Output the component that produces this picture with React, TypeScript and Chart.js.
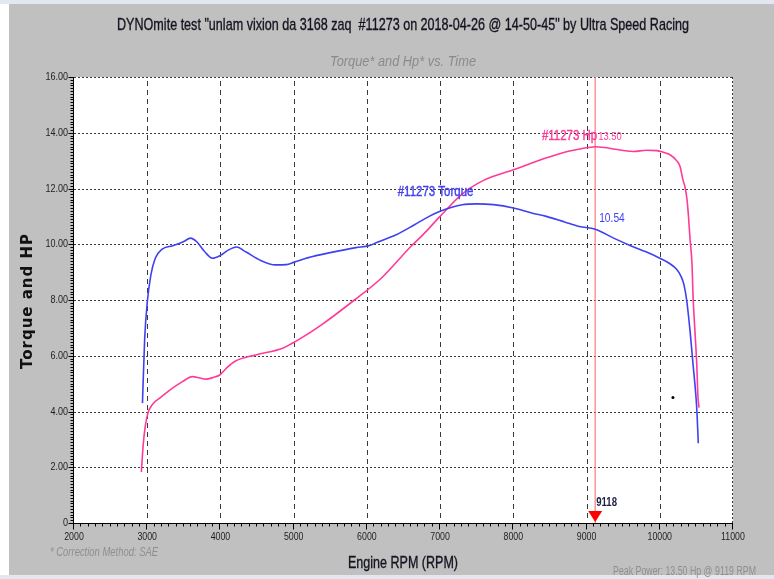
import { useEffect, useRef } from "react";
import { Chart, registerables } from "chart.js";

Chart.register(...registerables);

// ---- Run data -------------------------------------------------------------
const runId = "#11273";

const torqueRpm = [
  2935, 2965, 3000, 3050, 3110, 3200, 3350, 3500, 3590, 3680, 3780, 3890, 4000,
  4100, 4220, 4350, 4550, 4750, 4900, 5000, 5200, 5500, 5850, 6030, 6150, 6400,
  6650, 6850, 7000, 7150, 7300, 7500, 7730, 8000, 8250, 8450, 8700, 8900, 9118,
  9370, 9600, 9820, 10000, 10140, 10230, 10290, 10330, 10367, 10413, 10454,
  10495, 10509, 10526,
];
const torqueVals = [
  4.3, 6.6, 7.9, 8.9, 9.5, 9.82, 9.95, 10.1, 10.22, 10.08, 9.75, 9.5, 9.6,
  9.78, 9.9, 9.72, 9.42, 9.26, 9.27, 9.35, 9.52, 9.7, 9.88, 9.95, 10.08, 10.34,
  10.7, 11.0, 11.18, 11.32, 11.42, 11.45, 11.42, 11.3, 11.12, 11.0, 10.8, 10.64,
  10.54, 10.22, 9.95, 9.72, 9.5, 9.3, 9.1, 8.85, 8.55, 8.0, 6.9, 5.7, 4.5, 3.9,
  2.86,
];

const hpRpm = [
  2920, 2945, 2975, 3010, 3070, 3180, 3300, 3480, 3620, 3720, 3800, 3900, 3990,
  4080, 4200, 4480, 4850, 4980, 5050, 5380, 5830, 6200, 6600, 6750, 7000, 7300,
  7600, 8000, 8456, 8700, 8911, 9000, 9118, 9250, 9365, 9638, 9821, 9958, 10050,
  10140, 10230, 10276, 10317, 10345, 10372, 10392, 10413, 10440, 10455, 10480,
  10505, 10522, 10536,
];
const hpVals = [
  1.83, 2.8, 3.5, 3.95, 4.25, 4.5, 4.75, 5.07, 5.25, 5.2, 5.16, 5.22, 5.31,
  5.55, 5.8, 6.03, 6.27, 6.45, 6.55, 7.11, 8.0, 8.79, 9.92, 10.3, 11.0, 11.8,
  12.3, 12.67, 13.1, 13.3, 13.42, 13.46, 13.5, 13.47, 13.42, 13.33, 13.37,
  13.36, 13.3, 13.21, 13.0, 12.8, 12.3, 12.05, 11.6, 11.0, 10.2, 9.3, 8.1, 6.9,
  5.7, 4.5, 4.14,
];

// stray point left on the graph by the dyno software
const strayRpm = [10180];
const strayVals = [4.5];

const xTickValues = [2000, 3000, 4000, 5000, 6000, 7000, 8000, 9000, 10000, 11000];
const xTickLabels = ["2000", "3000", "4000", "5000", "6000", "7000", "8000", "9000", "10000", "11000"];
const yTickValues = [0, 2, 4, 6, 8, 10, 12, 14, 16];
const yTickLabels = ["0", "2.00", "4.00", "6.00", "8.00", "10.00", "12.00", "14.00", "16.00"];

const markerRpm = 9118;
const peakPowerRpm = 9119;

const titleText =
  'DYNOmite test "unlam vixion da 3168 zaq  #11273 on 2018-04-26 @ 14-50-45" by Ultra Speed Racing';
const subtitleText = "Torque* and Hp* vs. Time";
const xTitle = "Engine RPM (RPM)";
const yTitle = "Torque and HP";
const correctionNote = "* Correction Method: SAE";

// ---- Styling ----------------------------------------------------------------
const W = 774;
const H = 579;
const TORQUE_COLOR = "#4040f2";
const HP_COLOR = "#ff3a98";
const PANEL = "#c0c0c0";
const SANS = "'Liberation Sans', Arial, sans-serif";

type Align = "left" | "center" | "right";

// Draws text horizontally squeezed (narrow face), either by a ratio or to a width.
function narrowText(
  ctx: CanvasRenderingContext2D,
  text: string,
  x: number,
  y: number,
  font: string,
  color: string,
  align: Align,
  opts: { sx?: number; width?: number; stroke?: number } = {}
) {
  ctx.save();
  ctx.font = font;
  ctx.fillStyle = color;
  ctx.textBaseline = "middle";
  ctx.textAlign = "left";
  const raw = ctx.measureText(text).width;
  const sx = opts.width ? opts.width / raw : opts.sx ?? 0.82;
  const w = raw * sx;
  const left = align === "center" ? x - w / 2 : align === "right" ? x - w : x;
  ctx.translate(left, y);
  ctx.scale(sx, 1);
  ctx.fillText(text, 0, 0);
  if (opts.stroke) {
    ctx.strokeStyle = color;
    ctx.lineWidth = opts.stroke;
    ctx.strokeText(text, 0, 0);
  }
  ctx.restore();
}

const dynoDecor = {
  id: "dynoDecor",
  beforeDraw(chart: any) {
    const { ctx, chartArea: a } = chart;
    ctx.save();
    ctx.fillStyle = "#ffffff";
    ctx.fillRect(0, 0, W, H);
    ctx.fillStyle = "#e3e8f0";
    ctx.fillRect(0, 0, W, 4);
    ctx.fillRect(0, 575, W, 4);
    ctx.fillStyle = PANEL;
    ctx.fillRect(9, 4, W - 9, 571);
    ctx.fillStyle = "#ffffff";
    ctx.fillRect(a.left, a.top, a.right - a.left, a.bottom - a.top);
    ctx.restore();
  },
  beforeDatasetsDraw(chart: any) {
    const { ctx, chartArea: a, scales } = chart;
    const xs = scales.x;
    const ys = scales.y;
    ctx.save();
    ctx.lineWidth = 1;
    // horizontal grid: dotted
    ctx.strokeStyle = "#3a3a3a";
    ctx.setLineDash([2, 2]);
    yTickValues.forEach((v) => {
      if (v === 0) return;
      const py = Math.round(ys.getPixelForValue(v)) + 0.5;
      ctx.beginPath();
      ctx.moveTo(a.left, py);
      ctx.lineTo(a.right, py);
      ctx.stroke();
    });
    // right border, dotted
    const rx = Math.round(xs.getPixelForValue(xTickValues[xTickValues.length - 1])) - 0.5;
    ctx.beginPath();
    ctx.moveTo(rx, a.top);
    ctx.lineTo(rx, a.bottom);
    ctx.stroke();
    // vertical grid: dashed
    ctx.setLineDash([5, 4]);
    xTickValues.slice(1, -1).forEach((v) => {
      const px = Math.round(xs.getPixelForValue(v)) + 0.5;
      ctx.beginPath();
      ctx.moveTo(px, a.top + 4);
      ctx.lineTo(px, a.bottom - 2);
      ctx.stroke();
    });
    // peak power marker line
    ctx.setLineDash([]);
    ctx.strokeStyle = "rgba(255,110,110,0.75)";
    ctx.lineWidth = 1.5;
    const mx = xs.getPixelForValue(markerRpm);
    ctx.beginPath();
    ctx.moveTo(mx, a.top);
    ctx.lineTo(mx, a.bottom);
    ctx.stroke();
    ctx.restore();
  },
  afterDatasetsDraw(chart: any) {
    const { ctx, chartArea: a, scales } = chart;
    const xs = scales.x;
    const ys = scales.y;
    ctx.save();
    ctx.strokeStyle = "#000";
    ctx.lineWidth = 1;
    ctx.setLineDash([]);

    // left axis with minor ticks
    const lx = a.left - 0.5;
    ctx.beginPath();
    ctx.moveTo(lx, a.top);
    ctx.lineTo(lx, a.bottom + 1);
    for (let i = 0; i <= 160; i++) {
      const py = Math.round(ys.getPixelForValue(i / 10)) + 0.5;
      const len = i % 20 === 0 ? 5 : 3;
      ctx.moveTo(lx - len, py);
      ctx.lineTo(lx, py);
    }
    ctx.stroke();

    // bottom axis with minor ticks
    const by = a.bottom + 0.5;
    ctx.beginPath();
    ctx.moveTo(a.left - 1, by);
    ctx.lineTo(a.right, by);
    for (let r = 2000; r <= 11000; r += 100) {
      const px = Math.round(xs.getPixelForValue(r)) - 0.5;
      const len = r % 1000 === 0 ? 6 : 3;
      ctx.moveTo(px, by);
      ctx.lineTo(px, by + len);
    }
    ctx.stroke();
    ctx.restore();

    // tick labels
    yTickValues.forEach((v, i) => {
      narrowText(ctx, yTickLabels[i], a.left - 6, ys.getPixelForValue(v), `11px ${SANS}`, "#1e1e1e", "right", { sx: 0.82 });
    });
    xTickValues.forEach((v, i) => {
      narrowText(ctx, xTickLabels[i], xs.getPixelForValue(v), a.bottom + 14, `11px ${SANS}`, "#1e1e1e", "center", { sx: 0.8 });
    });

    // marker triangle and rpm label
    const mx = xs.getPixelForValue(markerRpm);
    ctx.save();
    ctx.fillStyle = "#ff0000";
    ctx.beginPath();
    ctx.moveTo(mx - 7, a.bottom - 12);
    ctx.lineTo(mx + 7, a.bottom - 12);
    ctx.lineTo(mx, a.bottom - 1);
    ctx.closePath();
    ctx.fill();
    ctx.restore();
    narrowText(ctx, String(markerRpm), mx + 1, a.bottom - 20, `bold 12px ${SANS}`, "#23234a", "left", { sx: 0.8 });

    // series labels tied to the data
    let hpPeak = 0;
    hpVals.forEach((v, i) => { if (v > hpVals[hpPeak]) hpPeak = i; });
    const hx = xs.getPixelForValue(hpRpm[hpPeak]);
    const hy = ys.getPixelForValue(hpVals[hpPeak]);
    narrowText(ctx, `${runId} Hp`, hx + 2, hy - 11, `14px ${SANS}`, HP_COLOR, "right", { sx: 0.82, stroke: 0.4 });
    narrowText(ctx, hpVals[hpPeak].toFixed(2), hx + 3, hy - 9.5, `11px ${SANS}`, HP_COLOR, "left", { sx: 0.85 });

    let tqPeak = 0;
    torqueVals.forEach((v, i) => { if (v > torqueVals[tqPeak]) tqPeak = i; });
    const tx = xs.getPixelForValue(torqueRpm[tqPeak]);
    const ty = ys.getPixelForValue(torqueVals[tqPeak]);
    narrowText(ctx, `${runId} Torque`, tx - 79, ty - 12, `14px ${SANS}`, TORQUE_COLOR, "left", { sx: 0.82, stroke: 0.4 });

    const mi = torqueRpm.indexOf(markerRpm);
    const my = ys.getPixelForValue(torqueVals[mi]);
    narrowText(ctx, torqueVals[mi].toFixed(2), mx + 4, my - 11, `12px ${SANS}`, TORQUE_COLOR, "left", { sx: 0.85 });

    // titles and notes
    narrowText(ctx, titleText, 403, 25, `17px ${SANS}`, "#141420", "center", { width: 572, stroke: 0.35 });
    narrowText(ctx, subtitleText, 403, 62, `italic 15px ${SANS}`, "#8a8a8a", "center", { width: 146 });
    narrowText(ctx, xTitle, 403, 563, `17px ${SANS}`, "#141420", "center", { width: 110, stroke: 0.35 });
    narrowText(ctx, correctionNote, 50, 553, `italic 12px ${SANS}`, "#8e8e8e", "left", { width: 108 });
    narrowText(
      ctx,
      `Peak Power: ${hpVals[hpPeak].toFixed(2)} Hp @ ${peakPowerRpm} RPM`,
      613, 572, `12px ${SANS}`, "#8e8e8e", "left", { width: 143 }
    );

    // rotated y-axis title
    ctx.save();
    ctx.translate(28, 301);
    ctx.rotate(-Math.PI / 2);
    ctx.font = `bold 15px 'DejaVu Sans', sans-serif`;
    (ctx as any).letterSpacing = "1px";
    ctx.fillStyle = "#111";
    ctx.textAlign = "center";
    ctx.textBaseline = "middle";
    ctx.fillText(yTitle, 0, 0);
    ctx.restore();
  },
};

export default function App() {
  const canvasRef = useRef<HTMLCanvasElement | null>(null);

  useEffect(() => {
    const canvas = canvasRef.current;
    if (!canvas) return;
    const chart = new Chart(canvas, {
      type: "scatter",
      data: {
        datasets: [
          {
            label: `${runId} Torque`,
            data: torqueRpm.map((x, i) => ({ x, y: torqueVals[i] })),
            showLine: true,
            borderColor: TORQUE_COLOR,
            borderWidth: 1.6,
            pointRadius: 0,
            cubicInterpolationMode: "monotone",
          },
          {
            label: `${runId} Hp`,
            data: hpRpm.map((x, i) => ({ x, y: hpVals[i] })),
            showLine: true,
            borderColor: HP_COLOR,
            borderWidth: 1.6,
            pointRadius: 0,
            cubicInterpolationMode: "monotone",
          },
          {
            label: "stray",
            data: strayRpm.map((x, i) => ({ x, y: strayVals[i] })),
            showLine: false,
            pointRadius: 1.5,
            pointBackgroundColor: "#000",
            pointBorderWidth: 0,
          },
        ],
      },
      options: {
        responsive: false,
        animation: false,
        events: [],
        layout: { padding: { left: 0, right: 41, top: 77, bottom: 0 } },
        plugins: { legend: { display: false }, tooltip: { enabled: false }, title: { display: false } },
        scales: {
          x: {
            type: "linear",
            min: 2000,
            max: 11000,
            ticks: { display: false, stepSize: 1000 },
            grid: { display: false },
            border: { display: false },
            afterFit(s: any) { s.height = 56; },
          },
          y: {
            type: "linear",
            min: 0,
            max: 16,
            ticks: { display: false, stepSize: 2 },
            grid: { display: false },
            border: { display: false },
            afterFit(s: any) { s.width = 74; },
          },
        },
      },
      plugins: [dynoDecor],
    } as any);
    return () => chart.destroy();
  }, []);

  return (
    <div style={{ position: "fixed", left: 0, top: 0, width: W, height: H }}>
      <canvas ref={canvasRef} width={W} height={H} style={{ display: "block", width: W, height: H }} />
    </div>
  );
}
